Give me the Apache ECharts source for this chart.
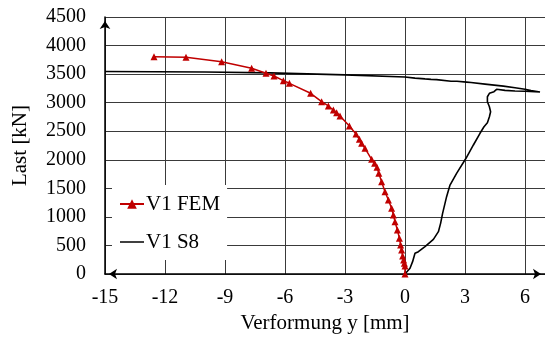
<!DOCTYPE html>
<html>
<head>
<meta charset="utf-8">
<script src="https://cdn.jsdelivr.net/npm/echarts@6/dist/echarts.min.js"></script>
<style>
html,body{margin:0;padding:0;background:#fff;}
#chart{width:545px;height:343px;}
</style>
</head>
<body>
<div id="chart"></div>
<script>
// ---- data ----
const seriesNames = ['V1 FEM', 'V1 S8'];
const xAxisName = 'Verformung y [mm]';
const yAxisName = 'Last [kN]';
const xTicks = [-15, -12, -9, -6, -3, 0, 3, 6];

// V1 FEM: [deflection y (mm), load (kN)]
const femData = [
  [-12.55, 3805], [-10.95, 3794], [-9.17, 3718], [-7.67, 3602], [-6.95, 3514],
  [-6.55, 3467], [-6.08, 3385], [-5.78, 3339], [-4.72, 3164], [-4.17, 3017],
  [-3.83, 2942], [-3.58, 2872], [-3.42, 2825], [-3.25, 2767], [-2.78, 2592],
  [-2.45, 2451], [-2.28, 2359], [-2.17, 2289], [-2.0, 2201], [-1.67, 2008],
  [-1.52, 1938], [-1.40, 1868], [-1.31, 1763], [-1.17, 1617], [-1.0, 1441],
  [-0.83, 1296], [-0.67, 1150], [-0.58, 1033], [-0.5, 916], [-0.38, 770],
  [-0.28, 625], [-0.22, 508], [-0.17, 420], [-0.12, 315], [-0.07, 245],
  [-0.03, 187], [0, 140], [0, 0]
];

// V1 S8: [deflection y (mm), load (kN)]
const s8Data = [
  [0, 0], [0.05, 23], [0.25, 100], [0.38, 216], [0.45, 303], [0.5, 362],
  [0.67, 391], [1.0, 479], [1.42, 607], [1.67, 741], [1.78, 887], [1.88, 1062],
  [2.08, 1354], [2.25, 1558], [2.58, 1763], [3.05, 2026], [3.42, 2259],
  [3.75, 2464], [3.95, 2579], [4.12, 2649], [4.22, 2754], [4.28, 2842],
  [4.22, 2929], [4.12, 3017], [4.12, 3104], [4.22, 3163], [4.45, 3192],
  [4.58, 3234], [5.0, 3215], [5.5, 3205], [6.0, 3200], [6.75, 3186],
  [6.3, 3212], [6.0, 3236], [5.5, 3262], [4.92, 3290], [4.0, 3325],
  [3.3, 3352], [3.08, 3360], [2.6, 3374], [2.5, 3370], [2.3, 3376],
  [1.58, 3403], [1.3, 3408], [1.0, 3416], [0.5, 3430], [0, 3450],
  [-3, 3486], [-6.75, 3522], [-10, 3536], [-15, 3545]
];

const chart = echarts.init(document.getElementById('chart'), null, {renderer: 'canvas'});
const font = 'Liberation Serif';
const gridColor = '#3a3a3a';

chart.setOption({
  animation: false,
  backgroundColor: '#ffffff',
  grid: {left: 105, right: 0, top: 17, bottom: 69, containLabel: false},
  legend: {
    data: [
      {name: seriesNames[0]},
      {name: seriesNames[1], icon: 'path://M0,0 L32,0 L32,2 L0,2 Z', itemStyle: {color: '#000'}}
    ],
    orient: 'vertical',
    left: 112,
    top: 185,
    padding: [8, 7, 7, 7],
    itemGap: 16,
    itemWidth: 24,
    itemHeight: 12,
    backgroundColor: '#ffffff',
    textStyle: {fontFamily: font, fontSize: 21, color: '#000', lineHeight: 22, padding: [0, 0, 0, -3]}
  },
  xAxis: {
    type: 'value',
    min: -15,
    max: 7,
    interval: 3,
    name: xAxisName,
    nameLocation: 'middle',
    nameGap: 36,
    nameTextStyle: {fontFamily: font, fontSize: 21, color: '#000'},
    axisLine: {
      onZero: false,
      symbol: ['arrow', 'arrow'],
      symbolSize: [8, 8],
      symbolOffset: [4, -4],
      lineStyle: {color: '#000', width: 1.5}
    },
    axisTick: {show: false},
    axisLabel: {
      fontFamily: font, fontSize: 20, color: '#000', margin: 14,
      showMaxLabel: false,
      formatter: function (v) { return xTicks.indexOf(v) >= 0 ? String(v) : ''; }
    },
    splitLine: {show: true, lineStyle: {color: gridColor, width: 1}}
  },
  yAxis: {
    type: 'value',
    min: 0,
    max: 4500,
    interval: 500,
    name: yAxisName,
    nameLocation: 'middle',
    nameGap: 74,
    nameTextStyle: {fontFamily: font, fontSize: 21, color: '#000'},
    axisLine: {
      show: true,
      onZero: false,
      symbol: ['none', 'arrow'],
      symbolSize: [8, 8],
      symbolOffset: [0, -4],
      lineStyle: {color: '#000', width: 1.5}
    },
    axisTick: {show: false},
    axisLabel: {
      fontFamily: font, fontSize: 20, color: '#000', margin: 19,
      formatter: function (v) { return String(v); }
    },
    splitLine: {show: true, lineStyle: {color: gridColor, width: 1}}
  },
  series: [
    {
      name: seriesNames[1],
      type: 'line',
      data: s8Data,
      symbol: 'none',
      lineStyle: {color: '#000', width: 1.6},
      itemStyle: {color: '#000'},
      z: 2
    },
    {
      name: seriesNames[0],
      type: 'line',
      data: femData,
      symbol: 'triangle',
      symbolSize: 7,
      lineStyle: {color: '#C00000', width: 1.5},
      itemStyle: {color: '#C00000'},
      z: 3
    }
  ]
});
</script>
</body>
</html>
